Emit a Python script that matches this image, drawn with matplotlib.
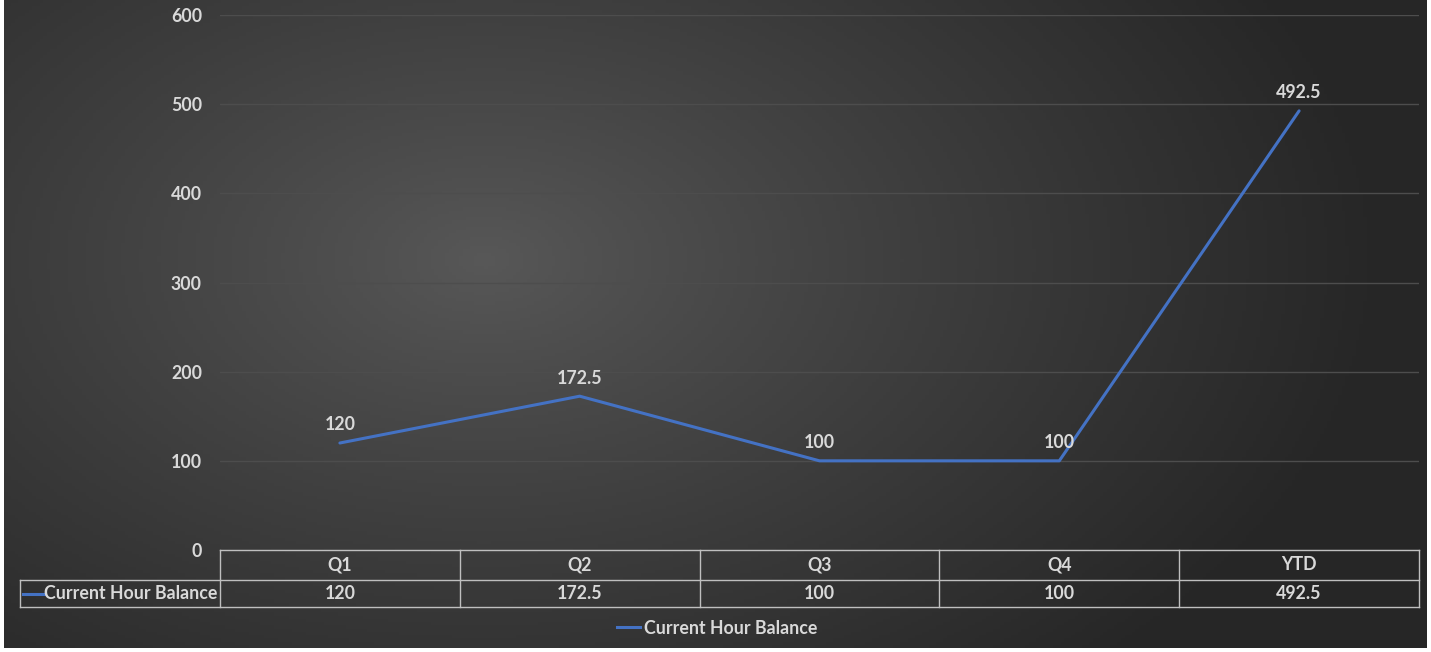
import numpy as np
import matplotlib
matplotlib.use("Agg")
import matplotlib.pyplot as plt

plt.rcParams['font.family'] = ['Lato', 'DejaVu Sans']
plt.rcParams['font.weight'] = 'bold'

categories = ["Q1", "Q2", "Q3", "Q4", "YTD"]
balance = [120, 172.5, 100, 100, 492.5]
value_labels = ["120", "172.5", "100", "100", "492.5"]
series_name = "Current Hour Balance"
yticks = [0, 100, 200, 300, 400, 500, 600]

W, H = 1431, 652
line_col = "#4472C4"
txt_col = "#D9D9D9"
tbl_col = "#BFBFBF"
fs = 12.8

fig = plt.figure(figsize=(W / 100, H / 100), dpi=100)
fig.patch.set_facecolor("white")

# dark radial gradient background
bg = fig.add_axes([4 / W, 4 / H, (1427 - 4) / W, (H - 4) / H])
bg.set_axis_off()
gx, gy = np.meshgrid(np.linspace(0, 1423, 400), np.linspace(0, 648, 200))
r = np.sqrt(((gx - 480) / 900) ** 2 + ((gy - 260) / 560) ** 2)
r = np.clip(r, 0, 1)
lum = 0.345 - (0.345 - 0.15) * r ** 0.9
img = np.dstack([lum, lum, lum])
bg.imshow(img, aspect="auto", extent=[0, 1, 0, 1], origin="upper")
bg.set_xlim(0, 1)
bg.set_ylim(0, 1)

ax = fig.add_axes([220 / W, 102 / H, (1419 - 220) / W, 535 / H])
ax.patch.set_alpha(0)
x = np.arange(len(categories))
ax.plot(x, balance, color=line_col, lw=2.2, solid_capstyle="round")
for xi, v, lab in zip(x, balance, value_labels):
    ax.annotate(lab, (xi, v), xytext=(0, 13), textcoords="offset points",
                ha="center", va="center", color=txt_col, fontsize=fs)

ax.set_xlim(-0.5, len(categories) - 0.5)
ax.set_ylim(0, 600)
ax.set_yticks(yticks)
ax.set_xticks([])
ax.tick_params(axis="y", length=0, pad=13, labelcolor=txt_col, labelsize=fs)
ax.grid(axis="y", color="#4d4d4d", lw=1)
ax.set_axisbelow(True)
for s in ax.spines.values():
    s.set_visible(False)

# data table under the axis
px = 600 / 535.0  # data units per pixel in y
row1 = -30 * px
row2 = -57 * px
left_lab = -0.5 - 200 / 240.0
kw = dict(color=tbl_col, lw=1, clip_on=False)
ax.plot([-0.5, 4.5], [0, 0], **kw)
ax.plot([left_lab, 4.5], [row1, row1], **kw)
ax.plot([left_lab, 4.5], [row2, row2], **kw)
ax.plot([left_lab, left_lab], [row1, row2], **kw)
for b in np.arange(len(categories) + 1) - 0.5:
    ax.plot([b, b], [0, row2], **kw)
for xi, c, lab in zip(x, categories, value_labels):
    ax.text(xi, row1 / 2, c, ha="center", va="center", color=txt_col,
            fontsize=fs, clip_on=False)
    ax.text(xi, (row1 + row2) / 2, lab, ha="center", va="center",
            color=txt_col, fontsize=fs, clip_on=False)
ax.plot([left_lab + 3 / 240, left_lab + 25 / 240], [(row1 + row2) / 2] * 2,
        color=line_col, lw=2.2, clip_on=False)
ax.text(-0.5 - 3 / 240, (row1 + row2) / 2, series_name, ha="right",
        va="center", color=txt_col, fontsize=fs, clip_on=False)

# legend
h, = ax.plot([], [], color=line_col, lw=2.2)
leg = fig.legend([h], [series_name], loc="center", bbox_to_anchor=(717 / W, 24 / H),
                 frameon=False, fontsize=fs, handlelength=1.3, handletextpad=0.2)
for t in leg.get_texts():
    t.set_color(txt_col)

fig.savefig("out.png", dpi=100)
